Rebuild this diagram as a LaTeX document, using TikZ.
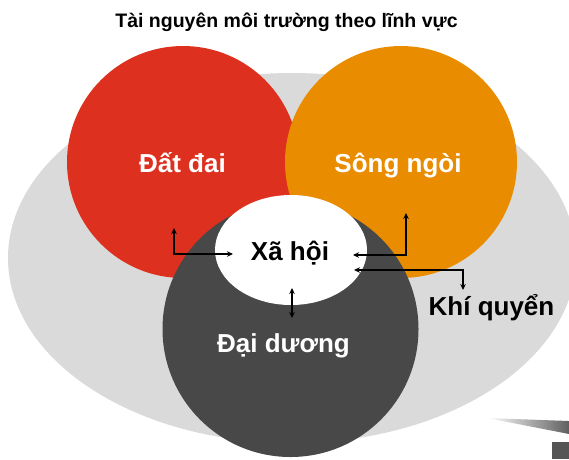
\documentclass[tikz,border=0pt]{standalone}
\usepackage{fontspec}
\setmainfont{Liberation Sans}
\usetikzlibrary{arrows.meta}
\definecolor{bggray}{RGB}{218,218,218}
\definecolor{redc}{RGB}{222,48,30}
\definecolor{orangec}{RGB}{234,140,0}
\definecolor{darkc}{RGB}{72,72,72}
\definecolor{wedgec}{RGB}{95,95,95}
\tikzset{
  lbl/.style={font=\bfseries\fontsize{26}{30}\selectfont, anchor=base, inner sep=0pt},
  conn/.style={line width=1.3pt, black, {Stealth[length=6pt,width=5.5pt]}-{Stealth[length=6pt,width=5.5pt]}}
}
\begin{document}
\begin{tikzpicture}[x=1pt,y=-1pt]
\useasboundingbox (0,0) rectangle (569,459);
\fill[white] (0,0) rectangle (569,459);
% background ellipse
\fill[bggray] (292,258) ellipse [x radius=284, y radius=185];
% circles
\fill[redc] (183,162) circle [radius=116];
\fill[orangec] (401,162) circle [radius=116];
\fill[darkc] (290.5,329) circle [radius=128];
\fill[white] (291,250) ellipse [x radius=76, y radius=55];
% bottom-right decoration
\shade[left color=white, right color=wedgec] (487,418) -- (569,421) -- (569,434) -- cycle;
\fill[wedgec!90!black] (552,442) rectangle (569,459);
% title
\node[font=\bfseries\fontsize{19.5}{23}\selectfont, anchor=base, inner sep=0pt] (title) at (286.5,27) {Tài nguyên môi trường theo lĩnh vực};
% labels
\node[lbl, text=white] (datdai) at (182.5,172) {Đất đai};
\node[lbl, text=white] (songngoi) at (398,172) {Sông ngòi};
\node[lbl, text=white] (daiduong) at (283.5,352) {Đại dương};
\node[lbl] (xahoi) at (290,260) {Xã hội};
\node[lbl] (khiquyen) at (491.5,315) {Khí quyển};
% connector end points
\coordinate (dd-tip) at (174,228);
\coordinate (xh-left) at (233,254);
\coordinate (sn-tip) at (406,213);
\coordinate (xh-right) at (353,255);
\coordinate (xh-rightlow) at (354,270);
\coordinate (kq-tip) at (463,290);
\coordinate (xh-bottom) at (292,288);
\coordinate (dg-tip) at (292,318);
% connectors
\draw[conn] (dd-tip) |- (xh-left);
\draw[conn] (sn-tip) |- (xh-right);
\draw[conn] (xh-rightlow) -| (kq-tip);
\draw[conn] (xh-bottom) -- (dg-tip);
\end{tikzpicture}
\end{document}
